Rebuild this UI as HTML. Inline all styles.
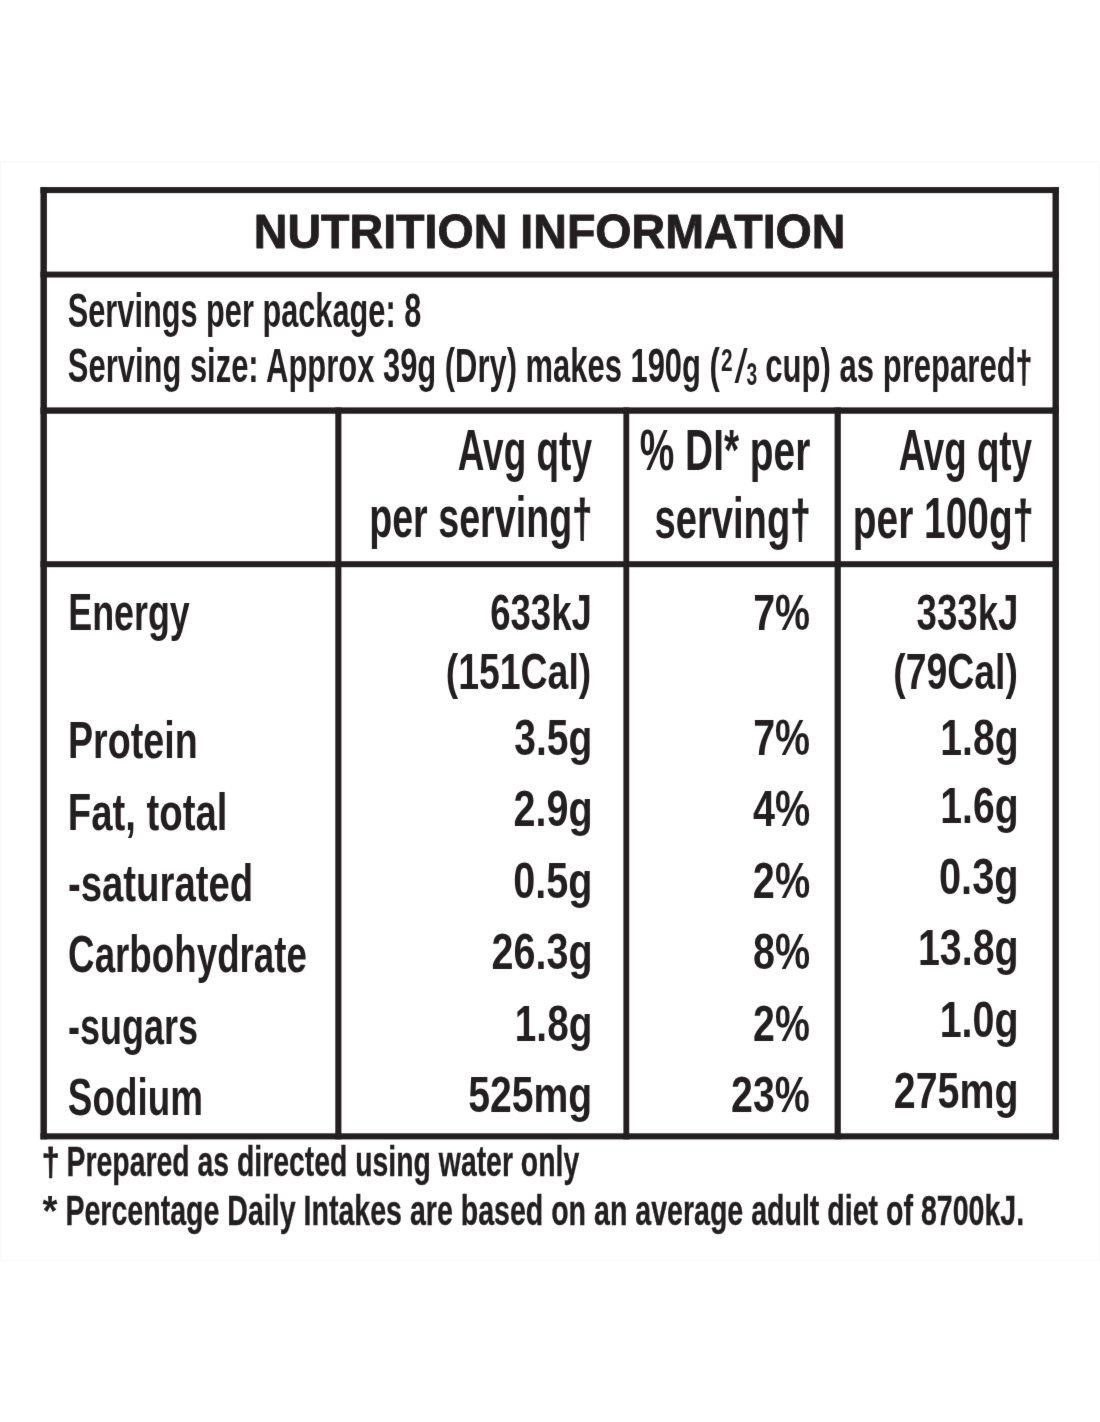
<!DOCTYPE html><html><head><meta charset="utf-8"><title>Nutrition Information</title><style>html,body{margin:0;padding:0;background:#fff;}svg{display:block;}text{font-family:"Liberation Sans",Arial,sans-serif;font-weight:700;fill:#231f20;}</style></head><body>
<svg width="1100" height="1422" viewBox="0 0 1100 1422">
<defs><filter id="soft" filterUnits="userSpaceOnUse" x="0" y="0" width="1100" height="1422" color-interpolation-filters="sRGB"><feConvolveMatrix order="3" kernelMatrix="0.00524 0.06192 0.00524 0.06192 0.73137 0.06192 0.00524 0.06192 0.00524" divisor="1" edgeMode="duplicate"/></filter></defs><g filter="url(#soft)">
<rect x="0" y="0" width="1100" height="1422" fill="#fff"/>
<rect x="0.5" y="161.5" width="1099" height="1099" fill="none" stroke="#f9f9f9" stroke-width="1.2"/>
<rect x="40.45" y="187.10" width="1018.45" height="6.00" fill="#231f20"/>
<rect x="40.45" y="1133.30" width="1018.45" height="6.10" fill="#231f20"/>
<rect x="40.45" y="187.10" width="6.45" height="952.30" fill="#231f20"/>
<rect x="1052.50" y="187.10" width="6.40" height="952.30" fill="#231f20"/>
<rect x="40.45" y="271.60" width="1018.45" height="5.90" fill="#231f20"/>
<rect x="40.45" y="407.40" width="1018.45" height="6.35" fill="#231f20"/>
<rect x="40.45" y="561.20" width="1018.45" height="6.00" fill="#231f20"/>
<rect x="335.30" y="407.40" width="6.10" height="732.00" fill="#231f20"/>
<rect x="623.40" y="407.40" width="5.80" height="732.00" fill="#231f20"/>
<rect x="834.60" y="407.40" width="6.20" height="732.00" fill="#231f20"/>
<text id="t_title" x="253.80" y="248.35" font-size="48.40" textLength="591.69" lengthAdjust="spacingAndGlyphs" stroke="#231f20" stroke-width="0.90" stroke-linejoin="round">NUTRITION INFORMATION</text>
<text id="s1" x="67.78" y="327.35" font-size="47.50" textLength="353.47" lengthAdjust="spacingAndGlyphs">Servings per package: 8</text>
<text id="s2a" x="67.85" y="382.25" font-size="47.50" textLength="652.01" lengthAdjust="spacingAndGlyphs">Serving size: Approx 39g (Dry) makes 190g (</text>
<text id="s2b" x="720.90" y="370.65" font-size="32.00" textLength="11.57" lengthAdjust="spacingAndGlyphs">2</text>
<text id="s2c" x="734.41" y="382.75" font-size="47.50" textLength="13.14" lengthAdjust="spacingAndGlyphs" style="font-weight:400">/</text>
<text id="s2d" x="746.57" y="384.85" font-size="32.00" textLength="10.68" lengthAdjust="spacingAndGlyphs">3</text>
<text id="s2e" x="765.34" y="382.25" font-size="47.50" textLength="266.75" lengthAdjust="spacingAndGlyphs">cup) as prepared<tspan font-size="45" stroke="#231f20" stroke-width="0.9">†</tspan></text>
<text id="h2a" x="457.73" y="470.05" font-size="56.50" textLength="134.25" lengthAdjust="spacingAndGlyphs">Avg qty</text>
<text id="h2b" x="369.17" y="537.35" font-size="56.50" textLength="223.04" lengthAdjust="spacingAndGlyphs">per serving<tspan font-size="54" stroke="#231f20" stroke-width="0.9">†</tspan></text>
<text id="h3a" x="639.81" y="470.15" font-size="56.50" textLength="170.49" lengthAdjust="spacingAndGlyphs">% DI* per</text>
<text id="h3b" x="654.42" y="537.75" font-size="56.50" textLength="156.14" lengthAdjust="spacingAndGlyphs">serving<tspan font-size="54" stroke="#231f20" stroke-width="0.9">†</tspan></text>
<text id="h4a" x="898.67" y="470.15" font-size="56.50" textLength="133.35" lengthAdjust="spacingAndGlyphs">Avg qty</text>
<text id="h4b" x="852.86" y="537.75" font-size="56.50" textLength="180.47" lengthAdjust="spacingAndGlyphs">per 100g<tspan font-size="54" stroke="#231f20" stroke-width="0.9">†</tspan></text>
<text id="l1" x="68.29" y="630.05" font-size="52.00" textLength="121.53" lengthAdjust="spacingAndGlyphs">Energy</text>
<text id="l2" x="68.01" y="758.35" font-size="52.00" textLength="129.66" lengthAdjust="spacingAndGlyphs">Protein</text>
<text id="l3" x="67.81" y="829.75" font-size="52.00" textLength="159.58" lengthAdjust="spacingAndGlyphs">Fat, total</text>
<text id="l4" x="67.91" y="900.55" font-size="52.00" textLength="185.34" lengthAdjust="spacingAndGlyphs">-saturated</text>
<text id="l5" x="68.12" y="972.15" font-size="52.00" textLength="238.85" lengthAdjust="spacingAndGlyphs">Carbohydrate</text>
<text id="l6" x="68.00" y="1043.95" font-size="52.00" textLength="130.01" lengthAdjust="spacingAndGlyphs">-sugars</text>
<text id="l7" x="67.86" y="1114.85" font-size="52.00" textLength="135.04" lengthAdjust="spacingAndGlyphs">Sodium</text>
<text id="a1" x="490.22" y="629.65" font-size="50.50" textLength="101.56" lengthAdjust="spacingAndGlyphs">633kJ</text>
<text id="a1b" x="445.67" y="688.55" font-size="50.50" textLength="145.64" lengthAdjust="spacingAndGlyphs">(151Cal)</text>
<text id="a2" x="514.30" y="755.25" font-size="50.50" textLength="78.09" lengthAdjust="spacingAndGlyphs">3.5g</text>
<text id="a3" x="513.42" y="826.35" font-size="50.50" textLength="79.14" lengthAdjust="spacingAndGlyphs">2.9g</text>
<text id="a4" x="513.15" y="897.85" font-size="50.50" textLength="79.27" lengthAdjust="spacingAndGlyphs">0.5g</text>
<text id="a5" x="491.53" y="968.85" font-size="50.50" textLength="101.04" lengthAdjust="spacingAndGlyphs">26.3g</text>
<text id="a6" x="514.84" y="1040.85" font-size="50.50" textLength="77.50" lengthAdjust="spacingAndGlyphs">1.8g</text>
<text id="a7" x="468.17" y="1111.55" font-size="50.50" textLength="124.12" lengthAdjust="spacingAndGlyphs">525mg</text>
<text id="b1" x="753.19" y="630.15" font-size="50.50" textLength="56.89" lengthAdjust="spacingAndGlyphs">7%</text>
<text id="b2" x="753.19" y="755.25" font-size="50.50" textLength="56.89" lengthAdjust="spacingAndGlyphs">7%</text>
<text id="b3" x="752.99" y="826.45" font-size="50.50" textLength="57.24" lengthAdjust="spacingAndGlyphs">4%</text>
<text id="b4" x="752.83" y="897.95" font-size="50.50" textLength="57.35" lengthAdjust="spacingAndGlyphs">2%</text>
<text id="b5" x="753.04" y="969.35" font-size="50.50" textLength="57.14" lengthAdjust="spacingAndGlyphs">8%</text>
<text id="b6" x="753.03" y="1040.75" font-size="50.50" textLength="56.82" lengthAdjust="spacingAndGlyphs">2%</text>
<text id="b7" x="731.02" y="1111.95" font-size="50.50" textLength="78.73" lengthAdjust="spacingAndGlyphs">23%</text>
<text id="c1" x="916.53" y="629.75" font-size="50.50" textLength="101.88" lengthAdjust="spacingAndGlyphs">333kJ</text>
<text id="c1b" x="893.24" y="689.25" font-size="50.50" textLength="124.68" lengthAdjust="spacingAndGlyphs">(79Cal)</text>
<text id="c2" x="940.28" y="754.95" font-size="50.50" textLength="78.27" lengthAdjust="spacingAndGlyphs">1.8g</text>
<text id="c3" x="940.28" y="822.65" font-size="50.50" textLength="78.27" lengthAdjust="spacingAndGlyphs">1.6g</text>
<text id="c4" x="938.99" y="893.75" font-size="50.50" textLength="79.63" lengthAdjust="spacingAndGlyphs">0.3g</text>
<text id="c5" x="917.90" y="965.45" font-size="50.50" textLength="100.80" lengthAdjust="spacingAndGlyphs">13.8g</text>
<text id="c6" x="939.68" y="1036.75" font-size="50.50" textLength="78.91" lengthAdjust="spacingAndGlyphs">1.0g</text>
<text id="c7" x="893.84" y="1107.95" font-size="50.50" textLength="124.68" lengthAdjust="spacingAndGlyphs">275mg</text>
<text id="f1a" x="41.78" y="1175.20" font-size="39.00" textLength="17.83" lengthAdjust="spacingAndGlyphs" stroke="#231f20" stroke-width="0.90" stroke-linejoin="round">†</text>
<text id="f1" x="66.54" y="1175.95" font-size="42.00" textLength="512.66" lengthAdjust="spacingAndGlyphs" stroke="#231f20" stroke-width="0.35" stroke-linejoin="round">Prepared as directed using water only</text>
<text id="f2a" x="42.60" y="1224.75" font-size="42.00" textLength="14.98" lengthAdjust="spacingAndGlyphs">*</text>
<text id="f2" x="65.45" y="1225.15" font-size="42.00" textLength="958.70" lengthAdjust="spacingAndGlyphs" stroke="#231f20" stroke-width="0.35" stroke-linejoin="round">Percentage Daily Intakes are based on an average adult diet of 8700kJ.</text>
</g></svg></body></html>
